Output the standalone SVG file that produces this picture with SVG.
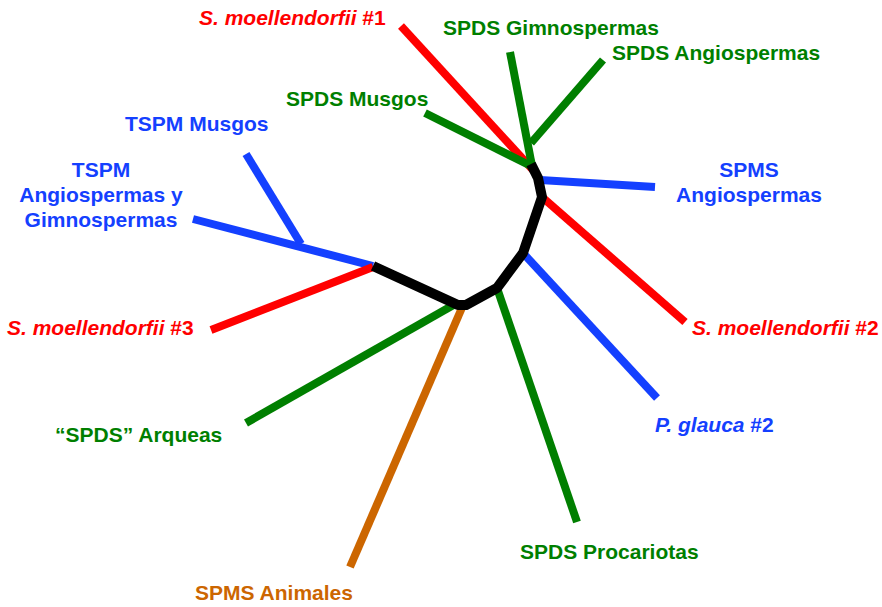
<svg xmlns="http://www.w3.org/2000/svg" width="882" height="607" viewBox="0 0 882 607">
<style>
text{font-family:"Liberation Sans",Arial,sans-serif;font-weight:bold;font-size:21px}
.r{fill:#FF0000}.g{fill:#007F00}.b{fill:#1440FF}.o{fill:#CC6600}
.i{font-style:italic}
line,polyline{stroke-width:8;fill:none;stroke-linecap:butt;stroke-linejoin:round}
.lr{stroke:#FF0000}.lg{stroke:#007F00}.lb{stroke:#1440FF}.lo{stroke:#CC6600}
.lk{stroke:#000000;stroke-width:10}
</style>
<rect width="882" height="607" fill="#FFFFFF"/>
<g id="connectors">
<line class="lr" x1="401" y1="26" x2="533" y2="170"/>
<line class="lr" x1="542" y1="197" x2="685" y2="322"/>
<line class="lb" x1="540" y1="180" x2="655" y2="187"/>
<line class="lg" x1="425" y1="113" x2="531" y2="166"/>
<line class="lg" x1="510" y1="52" x2="532" y2="166"/>
<line class="lg" x1="603" y1="60" x2="531" y2="143"/>
<line class="lb" x1="523" y1="253" x2="657" y2="398"/>
<line class="lg" x1="497" y1="288" x2="577" y2="522"/>
<line class="lo" x1="464" y1="303" x2="350" y2="567"/>
<line class="lg" x1="457" y1="303" x2="246" y2="423"/>
<line class="lb" x1="193" y1="219" x2="373" y2="266"/>
<line class="lb" x1="301" y1="244" x2="246" y2="154"/>
<line class="lr" x1="373" y1="267" x2="211" y2="330"/>
<polyline class="lk" points="373,266 458,305 466,305 497,288 523,253 542,197 538,178 531,164"/>
</g>
<g id="n-smoel1"><text class="r" x="199" y="25"><tspan class="i">S. moellendorfii</tspan> #1</text></g>
<g id="n-spds-gimno"><text class="g" x="443" y="35">SPDS Gimnospermas</text></g>
<g id="n-spds-angio"><text class="g" x="612" y="60">SPDS Angiospermas</text></g>
<g id="n-spds-musgos"><text class="g" x="286" y="106">SPDS Musgos</text></g>
<g id="n-tspm-musgos"><text class="b" x="125" y="131">TSPM Musgos</text></g>
<g id="n-tspm-ag"><text class="b" x="101" y="177" text-anchor="middle">TSPM<tspan x="101" dy="25">Angiospermas y</tspan><tspan x="101" dy="25">Gimnospermas</tspan></text></g>
<g id="n-spms-angio"><text class="b" x="749" y="177" text-anchor="middle">SPMS<tspan x="749" dy="25">Angiospermas</tspan></text></g>
<g id="n-smoel2"><text class="r" x="692" y="335"><tspan class="i">S. moellendorfii</tspan> #2</text></g>
<g id="n-smoel3"><text class="r" x="7" y="335"><tspan class="i">S. moellendorfii</tspan> #3</text></g>
<g id="n-arqueas"><text class="g" x="55" y="442">“SPDS” Arqueas</text></g>
<g id="n-pglauca"><text class="b" x="655" y="432"><tspan class="i">P. glauca</tspan> #2</text></g>
<g id="n-procariotas"><text class="g" x="520" y="559">SPDS Procariotas</text></g>
<g id="n-animales"><text class="o" x="195" y="600">SPMS Animales</text></g>
</svg>
